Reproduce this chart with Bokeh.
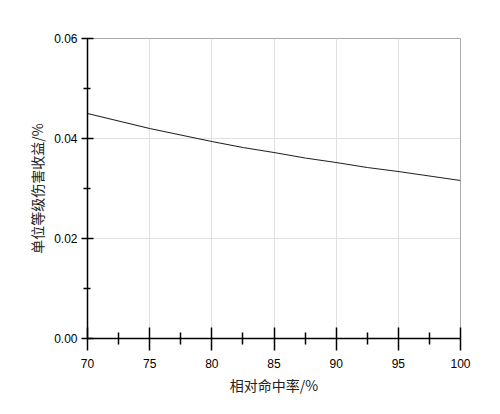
from bokeh.plotting import figure
from bokeh.models import FixedTicker, Range1d, CustomJSTickFormatter
from bokeh.embed import file_html
from bokeh.resources import INLINE

# data
hit_rate = [70, 72.5, 75, 77.5, 80, 82.5, 85, 87.5, 90, 92.5, 95, 97.5, 100]
gain = [0.0450, 0.0435, 0.0420, 0.0407, 0.0394, 0.0382, 0.0372, 0.0361,
        0.0352, 0.0342, 0.0334, 0.0325, 0.0316]

x_major = [70, 75, 80, 85, 90, 95, 100]
x_minor = [72.5, 77.5, 82.5, 87.5, 92.5, 97.5]
y_major = [0.0, 0.02, 0.04, 0.06]
y_minor = [0.01, 0.03, 0.05]
x_title = "相对命中率/%"
y_title = "单位等级伤害收益/%"

p = figure(width=484, height=398, output_backend="svg", toolbar_location=None,
           x_range=Range1d(70, 100), y_range=Range1d(0, 0.06),
           min_border_left=87, min_border_right=24, min_border_top=38,
           min_border_bottom=60)
p.outline_line_color = "#a8a8a8"
p.outline_line_width = 1
p.background_fill_color = "white"

p.line(hit_rate, gain, line_color="#222222", line_width=1.1)

tick_font = "Liberation Sans"
for ax in (p.xaxis[0], p.yaxis[0]):
    ax.axis_line_color = "black"
    ax.axis_line_width = 1.5
    ax.major_tick_line_color = "black"
    ax.major_tick_line_width = 1.5
    ax.minor_tick_line_color = "black"
    ax.minor_tick_line_width = 1.5
    ax.major_label_text_font = tick_font
    ax.major_label_text_font_size = "12px"
    ax.major_label_text_color = "black"
    ax.axis_label_text_font = "Noto Sans CJK SC"
    ax.axis_label_text_font_size = "14px"
    ax.axis_label_text_font_style = "normal"
    ax.axis_label_text_color = "#222222"

xa = p.xaxis[0]
xa.ticker = FixedTicker(ticks=x_major, minor_ticks=x_minor)
xa.major_tick_in = 11
xa.major_tick_out = 12
xa.minor_tick_in = 6
xa.minor_tick_out = 6
xa.major_label_standoff = 8
xa.axis_label = x_title
xa.axis_label_standoff = 4

ya = p.yaxis[0]
ya.ticker = FixedTicker(ticks=y_major, minor_ticks=y_minor)
ya.major_tick_in = 6
ya.major_tick_out = 6
ya.minor_tick_in = 3
ya.minor_tick_out = 4
ya.major_label_standoff = 4
ya.axis_label = y_title
ya.axis_label_standoff = 4
ya.formatter = CustomJSTickFormatter(code="return tick.toFixed(2);")

p.xgrid.grid_line_color = "#e0e0e0"
p.ygrid.grid_line_color = "#e0e0e0"
p.xgrid.ticker = FixedTicker(ticks=x_major)
p.ygrid.ticker = FixedTicker(ticks=y_major)

open("out.html", "w").write(file_html(p, INLINE))
